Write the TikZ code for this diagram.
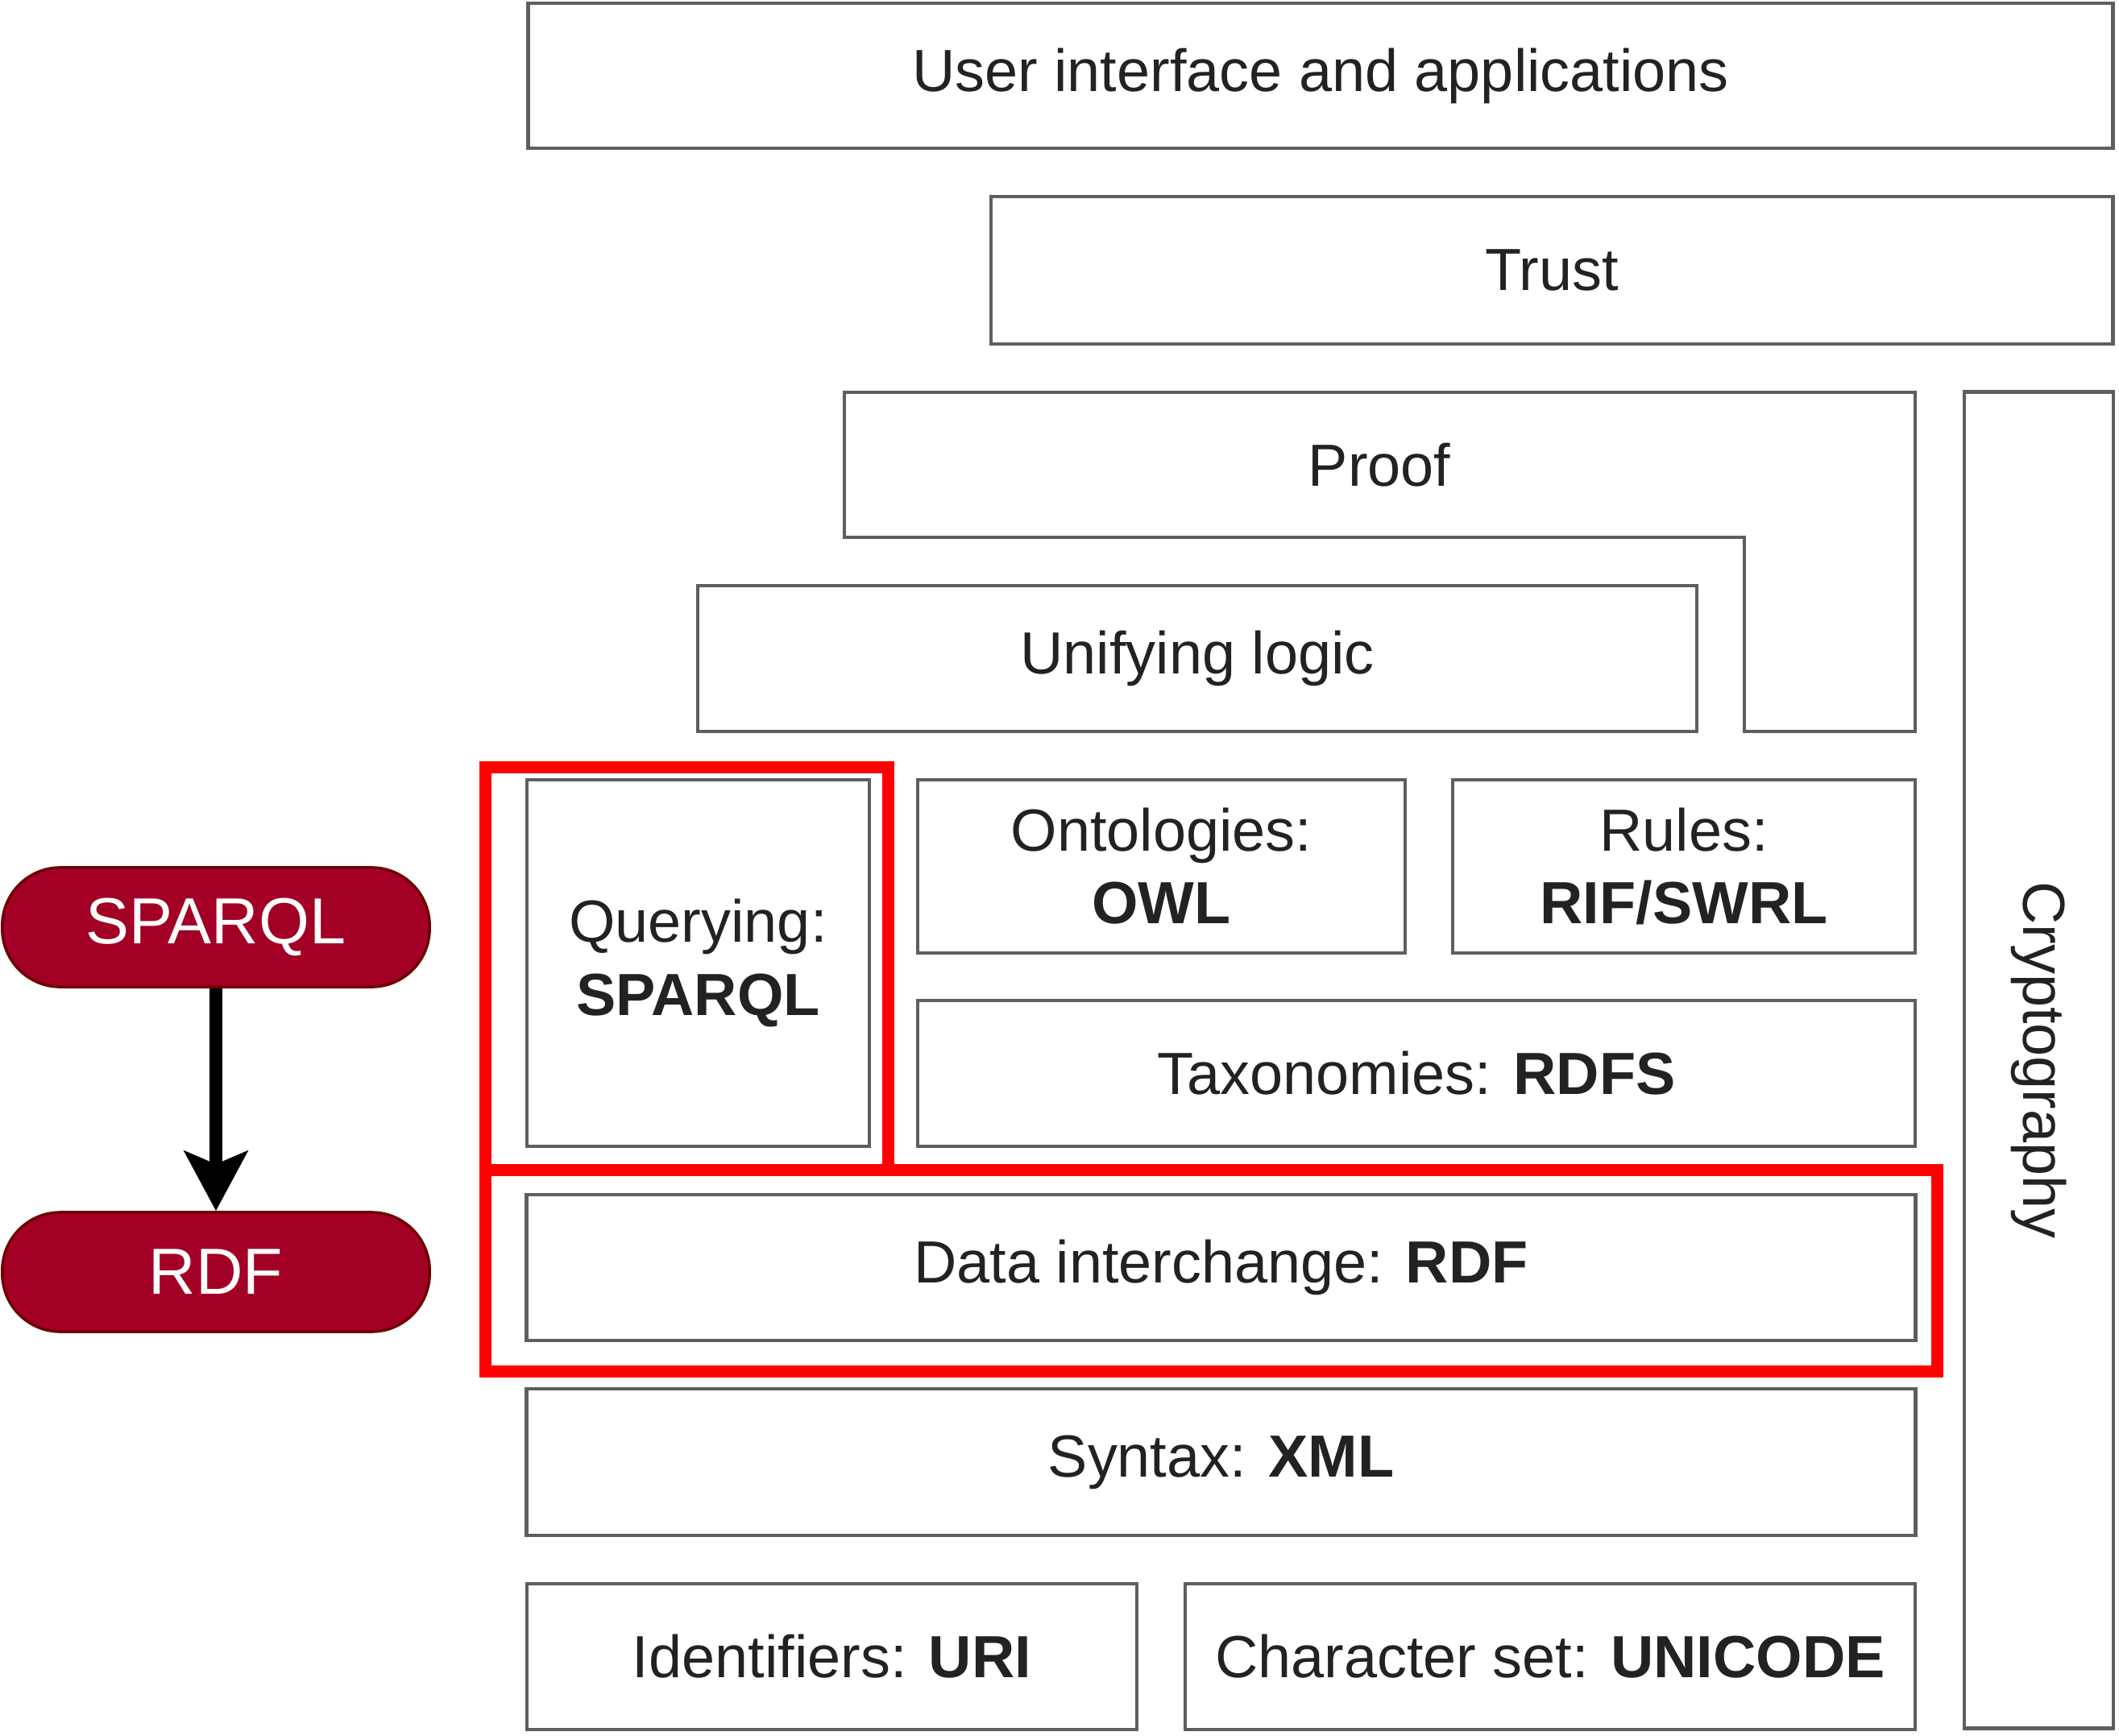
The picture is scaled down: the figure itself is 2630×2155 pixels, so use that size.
\documentclass[tikz,border=0pt]{standalone}
\usepackage{fontspec}
\setmainfont{Liberation Sans}
\usetikzlibrary{arrows.meta}
\definecolor{boxgray}{HTML}{5E5E5E}
\definecolor{pillfill}{HTML}{A20025}
\definecolor{pillline}{HTML}{6F0000}
\definecolor{txt}{HTML}{222222}
\begin{document}
\begin{tikzpicture}[x=0.01cm,y=-0.01cm,
  layer/.style={draw=boxgray, line width=1.2pt, fill=white, inner sep=0pt,
    align=center, font=\fontsize{21}{25.6}\selectfont, text=txt},
  pill/.style={draw=pillline, line width=1pt, fill=pillfill, text=white,
    rounded corners=0.72cm, minimum width=5.3cm, minimum height=1.48cm,
    inner sep=0pt, font=\fontsize{23}{27}\selectfont},
  hilite/.style={draw=red, line width=0.15cm},
  conn/.style={line width=0.15cm, draw=black,
    -{Stealth[length=0.74cm, width=0.78cm, inset=0.16cm]}}]

\useasboundingbox (0,0) rectangle (2630,2155);

% top layers
\node[layer, minimum width=19.66cm, minimum height=1.80cm] (ui) at (1639,94)
  {User interface and applications};
\node[layer, minimum width=13.92cm, minimum height=1.83cm] (trust) at (1926,335.5)
  {Trust};

% proof (L-shaped)
\draw[draw=boxgray, line width=1.2pt, fill=white]
  (1048,487) -- (2377,487) -- (2377,908) -- (2165,908) -- (2165,667) -- (1048,667) -- cycle;
\node[font=\fontsize{21}{25.6}\selectfont, text=txt] (proof) at (1712,577) {Proof};

\node[layer, minimum width=12.40cm, minimum height=1.81cm] (logic) at (1486,817.5)
  {Unifying logic};

% cryptography
\node[layer, rotate=-90, minimum width=16.58cm, minimum height=1.85cm] (crypto) at (2530.5,1316)
  {Cryptography};

% middle layers
\node[layer, minimum width=4.25cm, minimum height=4.55cm] (query) at (866.5,1195.5)
  {Querying:\\\textbf{SPARQL}};
\node[layer, minimum width=6.05cm, minimum height=2.15cm] (owl) at (1441.5,1075.5)
  {Ontologies:\\\textbf{OWL}};
\node[layer, minimum width=5.74cm, minimum height=2.15cm] (rules) at (2090,1075.5)
  {Rules:\\\textbf{RIF/SWRL}};
\node[layer, minimum width=12.38cm, minimum height=1.81cm] (rdfs) at (1758,1332.5)
  {Taxonomies: \textbf{RDFS}};
\node[layer, minimum width=17.23cm, minimum height=1.81cm] (rdfl) at (1515.5,1573.5)
  {Data interchange: \textbf{RDF}};
\node[layer, minimum width=17.23cm, minimum height=1.82cm] (xml) at (1515.5,1815)
  {Syntax: \textbf{XML}};
\node[layer, minimum width=7.57cm, minimum height=1.81cm] (uri) at (1032.5,2056.5)
  {Identifiers: \textbf{URI}};
\node[layer, minimum width=9.06cm, minimum height=1.81cm] (unicode) at (1924,2056.5)
  {Character set: \textbf{UNICODE}};

% highlights
\draw[hilite] (602,952) rectangle (1102,1452);
\draw[hilite] (602,1452) rectangle (2404,1702);

% left flow
\node[pill] (sparql) at (268,1151) {SPARQL};
\node[pill] (rdf) at (268,1579) {RDF};
\draw[conn] (sparql) -- (rdf);

\end{tikzpicture}
\end{document}
